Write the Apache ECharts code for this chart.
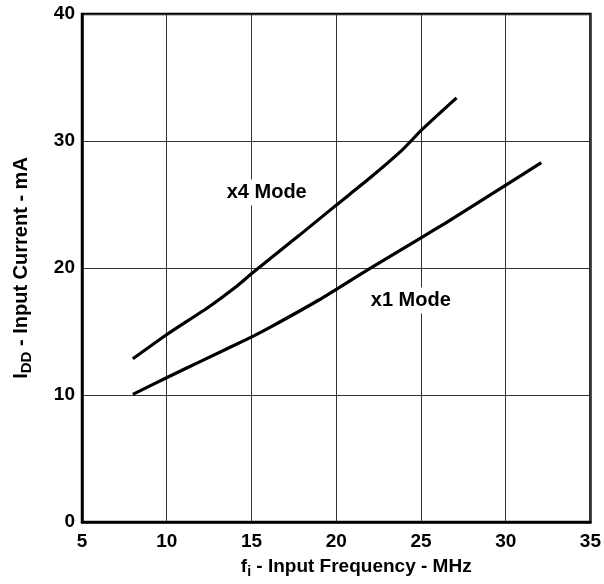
<!DOCTYPE html>
<html>
<head>
<meta charset="utf-8">
<script src="https://cdn.jsdelivr.net/npm/echarts@6/dist/echarts.min.js"></script>
<style>html,body{margin:0;padding:0;background:#fff}#c{width:604px;height:584px}</style>
</head>
<body>
<div id="c"></div>
<script>
// Data
var x4Freq = [8, 10.05, 12.5, 14.07, 15.05, 17.8, 20, 22, 23.9, 25.1, 27.1];
var x4Curr = [12.85, 14.8, 16.95, 18.5, 19.6, 22.55, 24.95, 27.1, 29.3, 30.95, 33.4];
var x1Freq = [8, 10.05, 12, 15.05, 16.2, 19, 21.9, 25.1, 26.4, 30.1, 32.1];
var x1Curr = [10.05, 11.4, 12.65, 14.6, 15.4, 17.5, 19.9, 22.45, 23.5, 26.6, 28.3];
var labelText = ['x4 Mode', 'x1 Mode'];
var labelFreq = [15.9, 24.4];
var labelCurr = [25.95, 17.45];
var xTicks = [5, 10, 15, 20, 25, 30, 35];
var yTicks = [0, 10, 20, 30, 40];

function pairs(xs, ys) { return xs.map(function (x, i) { return [x, ys[i]]; }); }

var font = 'Liberation Sans, Arial, sans-serif';
function rich(size, subSize, pad) {
  return {
    f: { fontFamily: font, fontWeight: 'bold', fontSize: size, color: '#000' },
    sub: { fontFamily: font, fontWeight: 'bold', fontSize: subSize, color: '#000', verticalAlign: 'bottom', padding: [pad, 0, 0, 0] },
    n: { fontFamily: font, fontWeight: 'bold', fontSize: size, color: '#000' }
  };
}
var chart = echarts.init(document.getElementById('c'), null, { renderer: 'canvas' });
chart.setOption({
  animation: false,
  backgroundColor: '#fff',
  grid: { left: 82, right: 12, top: 14, bottom: 59, show: true, borderColor: '#000', borderWidth: 2.5, backgroundColor: 'transparent' },
  xAxis: {
    type: 'value', min: xTicks[0], max: xTicks[xTicks.length - 1], interval: 5,
    axisLine: { show: true, lineStyle: { color: '#000', width: 2.5 } },
    axisTick: { show: false },
    splitLine: { show: true, lineStyle: { color: '#333', width: 1 } },
    axisLabel: { color: '#000', fontFamily: font, fontWeight: 'bold', fontSize: 19, margin: 10 },
    name: '{f|f}{sub|i}{n| - Input Frequency - MHz}',
    nameLocation: 'middle', nameGap: 33,
    nameTextStyle: { padding: [0, 0, 0, 40], rich: rich(19, 14, 10) }
  },
  yAxis: {
    type: 'value', min: yTicks[0], max: yTicks[yTicks.length - 1], interval: 10,
    axisLine: { show: true, lineStyle: { color: '#000', width: 2.5 } },
    axisTick: { show: false },
    splitLine: { show: true, lineStyle: { color: '#333', width: 1 } },
    axisLabel: { color: '#000', fontFamily: font, fontWeight: 'bold', fontSize: 19, margin: 7 },
    name: '{f|I}{sub|DD}{n| - Input Current - mA}',
    nameLocation: 'middle', nameGap: 48, nameRotate: 90,
    nameTextStyle: { rich: rich(20, 15, 10) }
  },
  series: [
    { type: 'line', data: pairs(x4Freq, x4Curr), smooth: 0.2, showSymbol: false, lineStyle: { color: '#000', width: 3.2 }, z: 3 },
    { type: 'line', data: pairs(x1Freq, x1Curr), smooth: 0.2, showSymbol: false, lineStyle: { color: '#000', width: 3.2 }, z: 3 },
    {
      type: 'scatter', symbolSize: 0, z: 4,
      itemStyle: { opacity: 1 },
      data: labelText.map(function (t, i) { return { value: [labelFreq[i], labelCurr[i]], name: t }; }),
      label: {
        show: true, position: 'inside', formatter: '{b}', color: '#000', opacity: 1,
        textBorderWidth: 0, fontFamily: font, fontWeight: 'bold', fontSize: 20,
        backgroundColor: '#fff', padding: [3, 3]
      }
    }
  ]
});
</script>
</body>
</html>
